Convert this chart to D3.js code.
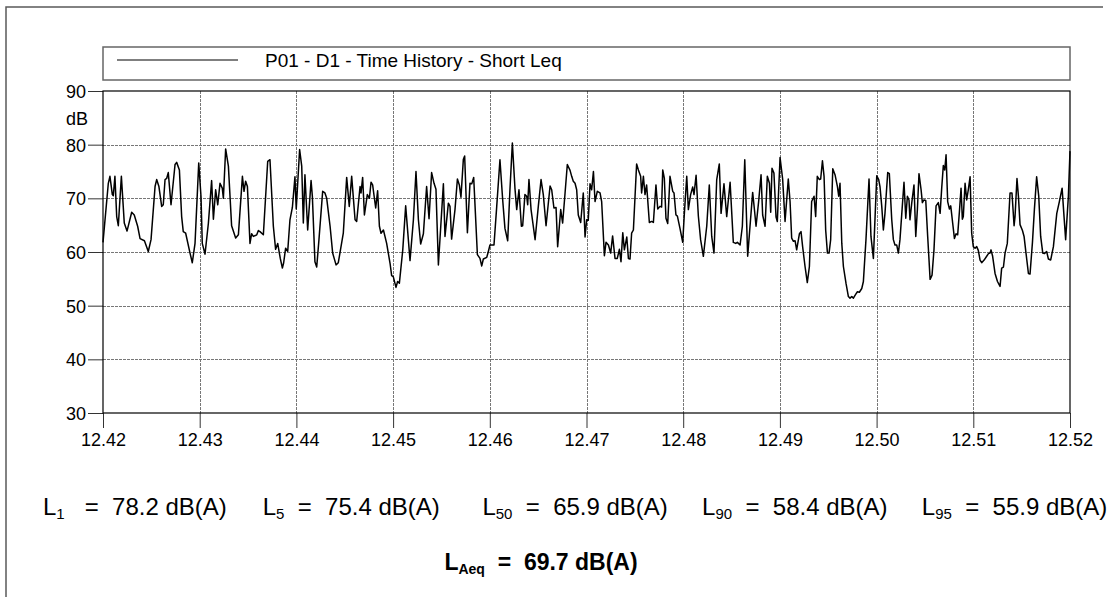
<!DOCTYPE html>
<html>
<head>
<meta charset="utf-8">
<script src="https://cdn.jsdelivr.net/npm/d3@7"></script>
<style>
  body { margin: 0; background: #fff; }
  svg { display: block; font-family: Arial, "Liberation Sans", sans-serif; }
  .pre { white-space: pre; }
</style>
</head>
<body>
<svg id="chart" width="1112" height="597"></svg>
<script>
// Short Leq time history, P01 - D1. Time is seconds after 12:42.
const elapsedSec = [
  0,3.3,4.3,5.8,6.4,7.4,8.5,9.5,11.4,13.2,
  14.9,17.8,19.4,21.5,23.0,25.7,28.1,29.8,32.3,33.3,
  34.7,36.4,37.4,38.5,39.5,40.5,42.2,44.7,45.7,47.4,
  48.8,49.8,51.3,54.0,55.4,57.1,59.4,60.8,61.6,63.3,
  65.4,67.4,68.5,69.9,71.2,72.6,74.0,74.7,76.1,77.8,
  79.8,82.3,84.0,86.5,87.5,88.5,89.6,91.2,92.2,93.3,
  95.4,96.4,97.4,99.5,102.2,103.6,105.7,107.1,108.4,110.0,
  111.3,112.1,113.3,114.6,116.0,117.5,119.1,119.9,122.0,123.3,
  124.3,125.3,127.0,129.1,129.9,131.5,132.6,134.0,136.3,137.7,138.8,
  140.9,142.5,144.6,146.0,149.1,151.2,152.8,154.3,156.4,157.4,
  159.5,160.1,161.1,162.2,164.0,165.3,166.3,167.3,169.2,170.4,
  171.5,172.5,174.0,176.0,178.1,179.1,180.1,181.8,182.8,183.9,
  186.0,187.8,190.5,192.6,194.2,195.7,197.1,198.8,200.8,202.3,
  203.9,205.4,206.6,208.1,211.2,212.2,214.3,215.3,216.3,218.4,
  219.9,221.1,222.1,223.6,224.4,226.1,227.7,228.8,230.0,232.3,
  233.9,235.0,236.0,238.1,239.1,240.1,242.6,244.3,246.3,248.0,
  249.4,251.1,252.5,254.0,255.6,256.7,258.1,259.6,260.4,261.8,
  262.9,263.5,264.3,265.6,268.1,270.1,271.8,273.2,274.9,277.4,
  278.4,279.8,281.1,282.1,284.0,285.2,286.7,288.1,
  289.8,290.8,291.8,292.9,293.9,294.9,296.4,298.0,299.1,300.1,
  301.1,302.2,303.2,304.3,305.3,306.7,308.4,309.4,311.1,312.1,
  313.6,315.0,316.2,317.7,319.1,320.4,321.4,322.5,323.5,325.0,
  326.0,327.0,328.0,329.1,331.1,332.2,333.6,334.2,335.3,336.3,
  337.3,339.0,340.4,341.5,343.1,344.2,345.6,346.6,347.3,348.3,
  349.3,350.4,351.8,353.5,354.3,355.5,356.4,358.0,359.7,360.7,
  362.2,363.2,364.6,365.9,366.7,368.0,369.4,370.8,372.5,374.6,
  376.2,377.7,379.1,380.8,382.4,383.5,385.3,387.0,389.1,391.1,
  392.6,393.6,395.3,396.7,398.2,400.0,403.1,404.1,405.2,406.8,
  408.3,409.3,410.8,412.2,413.5,414.3,415.1,416.3,417.6,418.4,
  420.1,421.7,423.2,425.2,426.3,427.3,428.4,429.4,430.4,432.1,
  433.1,434.1,435.6,437.0,438.3,
  439.7,441.2,442.2,443.2,444.5,445.3,446.4,447.4,448.4,449.5,
  450.5,451.5,452.8,454.2,455.7,456.5,457.3,458.4,459.4,461.0,
  462.5,463.5,464.6,465.6,467.0,468.1,469.3,470.8,471.8,473.4,
  475.3,476.5,478.0,480.1,481.3,482.1,483.2,484.2,485.2,486.9,
  487.9,489.4,490.4,491.4,492.5,493.5,494.5,495.8,497.0,498.1,
  499.1,500.1,500.7,501.8,503.2,504.3,505.3,506.3,507.6,508.4,
  509.4,510.5,511.7,513.2,514.4,515.6,516.9,518.3,519.4,520.4,
  521.4,522.3,523.1,524.1,525.2,526.0,527.2,528.3,529.3,530.3,
  531.4,532.4,533.2,533.8,534.9,535.9,536.9,538.0,539.0,540.0,
  541.1,542.1,543.1,544.2,545.2,546.7,548.3,549.4,550.4,551.0,
  552.0,553.5,555.0,556.6,557.6,558.7,559.7,561.1,562.8,564.0,
  565.3,565.9,567.1,568.0,569.0,570.5,571.5,572.7,574.2,575.2,
  576.7,577.9,579.3,580.6,581.8,583.1,584.1,585.5,586.6,588.0,
  589.7,591.8,593.4,595.1,596.3,597.3,599.0,600.0
];

const leqDb = [
  61.8,72.8,74.1,70.7,70.5,74.1,66.6,64.9,74.1,65.4,
  63.9,67.4,66.9,64.8,62.5,62.1,60.1,62.3,72.2,73.5,
  72.2,68.5,68.8,73.5,73.7,74.8,68.8,76.3,76.7,75.3,
  66.6,63.8,63.5,59.8,58.0,61.6,76.6,70.4,61.6,59.6,
  65.4,73.3,66.1,71.6,68.8,72.8,71.9,70.0,79.2,76.0,
  64.9,62.6,63.2,74.1,71.3,73.2,72.2,61.6,63.4,62.9,
  63.2,64.0,63.8,63.2,76.9,77.2,64.8,60.5,61.6,58.8,
  57.0,58.0,60.7,60.1,66.0,68.3,74.0,68.0,79.1,76.0,
  65.4,74.4,64.1,73.3,70.4,58.2,57.2,62.3,71.3,71.0,70.0,
  64.8,59.8,57.6,58.0,63.5,73.9,68.5,74.1,66.0,65.7,
  72.2,71.0,73.9,66.9,70.7,70.0,73.0,72.5,68.2,71.4,
  64.8,63.5,64.1,61.6,57.9,55.6,55.4,53.4,54.5,54.2,
  60.4,68.6,58.4,66.0,75.0,66.0,61.5,63.4,72.2,66.2,
  74.8,72.8,71.7,57.6,72.7,62.9,69.1,68.5,62.4,67.9,
  73.6,72.5,70.2,77.3,77.9,63.6,72.8,72.7,73.9,59.5,
  58.8,57.4,58.7,59.0,60.1,61.3,61.3,68.5,77.2,69.7,
  64.4,62.1,71.6,80.3,71.9,67.9,71.6,64.8,64.9,70.7,
  70.4,68.8,73.5,67.9,62.3,68.5,73.5,70.7,64.9,72.3,
  71.6,68.2,68.3,61.0,67.9,65.4,71.0,76.3,
  75.2,74.1,73.2,72.8,71.6,66.9,65.5,71.0,62.8,66.0,
  65.9,72.7,71.6,75.0,69.4,71.3,71.0,69.4,59.3,61.8,
  61.3,59.8,63.0,58.8,58.8,60.5,58.2,63.6,60.4,62.8,
  58.8,58.7,63.5,64.1,76.4,75.3,74.1,71.0,74.1,70.7,
  72.5,65.5,65.7,65.5,72.5,68.0,68.5,68.4,75.3,73.7,
  66.3,65.3,74.1,71.3,71.0,66.9,66.7,64.4,61.8,67.1,
  74.1,67.9,70.7,72.1,70.7,74.3,66.7,62.3,59.2,64.8,
  72.5,62.9,59.8,73.5,76.4,67.2,72.7,66.6,73.0,61.8,
  61.6,61.8,61.3,64.8,77.2,59.2,71.1,68.2,64.8,69.4,
  74.4,66.9,64.8,74.1,72.8,67.4,75.6,74.7,66.5,65.7,
  77.6,73.6,65.7,73.6,69.4,62.6,62.0,62.1,60.4,63.4,
  63.8,61.0,57.3,54.3,57.3,
  69.4,70.4,66.6,74.1,73.5,73.6,77.0,74.1,64.1,59.8,
  59.8,62.3,75.5,74.4,72.2,70.4,72.8,61.6,57.3,54.2,
  51.7,51.4,51.7,51.4,52.1,52.6,52.5,53.2,54.5,62.3,
  73.6,62.9,58.8,74.2,73.5,72.2,68.5,64.1,67.2,74.8,
  74.6,66.0,62.3,61.3,61.3,59.8,62.3,67.9,73.0,66.3,
  70.4,69.7,66.0,69.1,72.5,62.9,67.9,74.6,71.6,69.2,
  69.7,69.6,62.9,54.9,55.7,60.4,68.6,69.2,67.2,71.9,
  76.1,75.3,78.1,69.4,68.0,68.6,65.4,62.5,63.4,63.2,
  67.6,71.9,66.1,66.6,72.8,69.7,71.6,74.0,63.5,61.0,
  60.7,61.0,60.3,58.5,58.0,58.5,59.2,59.7,59.8,60.4,
  59.2,56.0,54.5,53.6,57.0,57.2,59.8,61.6,71.0,71.0,
  64.9,66.6,73.7,70.4,65.1,64.0,62.9,59.8,56.0,55.9,
  61.8,67.9,74.0,70.4,62.9,59.8,59.7,60.1,58.7,58.5,
  61.0,67.2,69.4,71.9,66.6,62.3,70.4,78.8
];

const timeTickSec = [0, 60, 120, 180, 240, 300, 360, 420, 480, 540, 600];
const timeTickLabels = ["12.42","12.43","12.44","12.45","12.46","12.47","12.48","12.49","12.50","12.51","12.52"];
const levelTicks = [30, 40, 50, 60, 70, 80, 90];

const seriesName = "P01 - D1 - Time History - Short Leq";
const percentileNames = ["1", "5", "50", "90", "95"];
const percentileValues = [78.2, 75.4, 65.9, 58.4, 55.9];
const laeqValue = 69.7;

const svg = d3.select("#chart");
const plot = { left: 103, right: 1070, top: 91, bottom: 413 };

const x = d3.scaleLinear().domain([0, 600]).range([plot.left, plot.right]);
const y = d3.scaleLinear().domain([30, 90]).range([plot.bottom, plot.top]);

// page frame (top and left edges)
svg.append("path")
  .attr("d", `M6,597 V7 H1103`)
  .attr("fill", "none").attr("stroke", "#5a5a5a").attr("stroke-width", 1.5);

// legend box
const legend = svg.append("g");
legend.append("rect")
  .attr("x", plot.left).attr("y", 47).attr("width", plot.right - plot.left).attr("height", 33)
  .attr("fill", "#fff").attr("stroke", "#666").attr("stroke-width", 1.5);
legend.append("line")
  .attr("x1", 117).attr("x2", 238).attr("y1", 60).attr("y2", 60)
  .attr("stroke", "#000").attr("stroke-width", 1.2);
legend.append("text")
  .attr("x", 265).attr("y", 66.5)
  .attr("font-size", 19).attr("fill", "#000")
  .text(seriesName);

// grid
const grid = svg.append("g")
  .attr("stroke", "#777").attr("stroke-width", 1).attr("stroke-dasharray", "3,1");
grid.selectAll("line.v")
  .data(timeTickSec.slice(1, -1))
  .join("line").attr("class", "v")
  .attr("x1", d => Math.round(x(d)) + 0.5).attr("x2", d => Math.round(x(d)) + 0.5)
  .attr("y1", plot.top).attr("y2", plot.bottom);
grid.selectAll("line.h")
  .data(levelTicks.slice(1, -1))
  .join("line").attr("class", "h")
  .attr("y1", d => Math.round(y(d)) + 0.5).attr("y2", d => Math.round(y(d)) + 0.5)
  .attr("x1", plot.left).attr("x2", plot.right);

// axes
const yAxis = svg.append("g")
  .attr("transform", `translate(${plot.left},0)`)
  .call(d3.axisLeft(y).tickValues(levelTicks).tickSize(15).tickPadding(2).tickFormat(d3.format("d")));
const xAxis = svg.append("g")
  .attr("transform", `translate(0,${plot.bottom})`)
  .call(d3.axisBottom(x).tickValues(timeTickSec).tickSize(15).tickPadding(5)
    .tickFormat((d, i) => timeTickLabels[i]));
[yAxis, xAxis].forEach(g => {
  g.select(".domain").remove();
  g.selectAll(".tick line").attr("stroke", "#333");
  g.selectAll(".tick text").attr("font-size", 18).attr("fill", "#000")
    .attr("font-family", "Arial, 'Liberation Sans', sans-serif");
});
yAxis.selectAll(".tick text").attr("dy", "0.36em");

svg.append("text")
  .attr("x", 88).attr("y", 125)
  .attr("text-anchor", "end").attr("font-size", 18).attr("fill", "#000")
  .text("dB");

// plot frame
svg.append("rect")
  .attr("x", plot.left).attr("y", plot.top)
  .attr("width", plot.right - plot.left).attr("height", plot.bottom - plot.top)
  .attr("fill", "none").attr("stroke", "#000").attr("stroke-width", 1.2);

// time history line
const samples = d3.zip(elapsedSec, leqDb);
svg.append("path")
  .datum(samples)
  .attr("fill", "none").attr("stroke", "#000").attr("stroke-width", 1.5)
  .attr("stroke-linejoin", "round")
  .attr("d", d3.line().x(d => x(d[0])).y(d => y(d[1])));

// percentile levels, one block per statistic: "L" + subscript, " = ", value
const blockStart = 43, blockStep = 219.7;
const stats = svg.append("g").attr("font-size", 24).attr("fill", "#000");
percentileNames.forEach((name, i) => {
  const t = stats.append("text")
    .attr("class", "pre").attr("xml:space", "preserve")
    .attr("x", blockStart + blockStep * i).attr("y", 515);
  t.append("tspan").text("L");
  t.append("tspan").attr("font-size", 15).attr("dy", 4).text(name);
  const pad = name === "1" ? "   " : "  ";
  t.append("tspan").attr("dy", -4).text(`${pad}=  ${percentileValues[i].toFixed(1)} dB(A)`);
});

// equivalent level
const eq = svg.append("text")
  .attr("class", "pre").attr("xml:space", "preserve")
  .attr("x", 541).attr("y", 570)
  .attr("text-anchor", "middle")
  .attr("font-size", 23).attr("font-weight", "bold").attr("fill", "#000");
eq.append("tspan").text("L");
eq.append("tspan").attr("font-size", 14).attr("dy", 4).text("Aeq");
eq.append("tspan").attr("dy", -4).text(`  =  ${laeqValue.toFixed(1)} dB(A)`);
</script>
</body>
</html>
